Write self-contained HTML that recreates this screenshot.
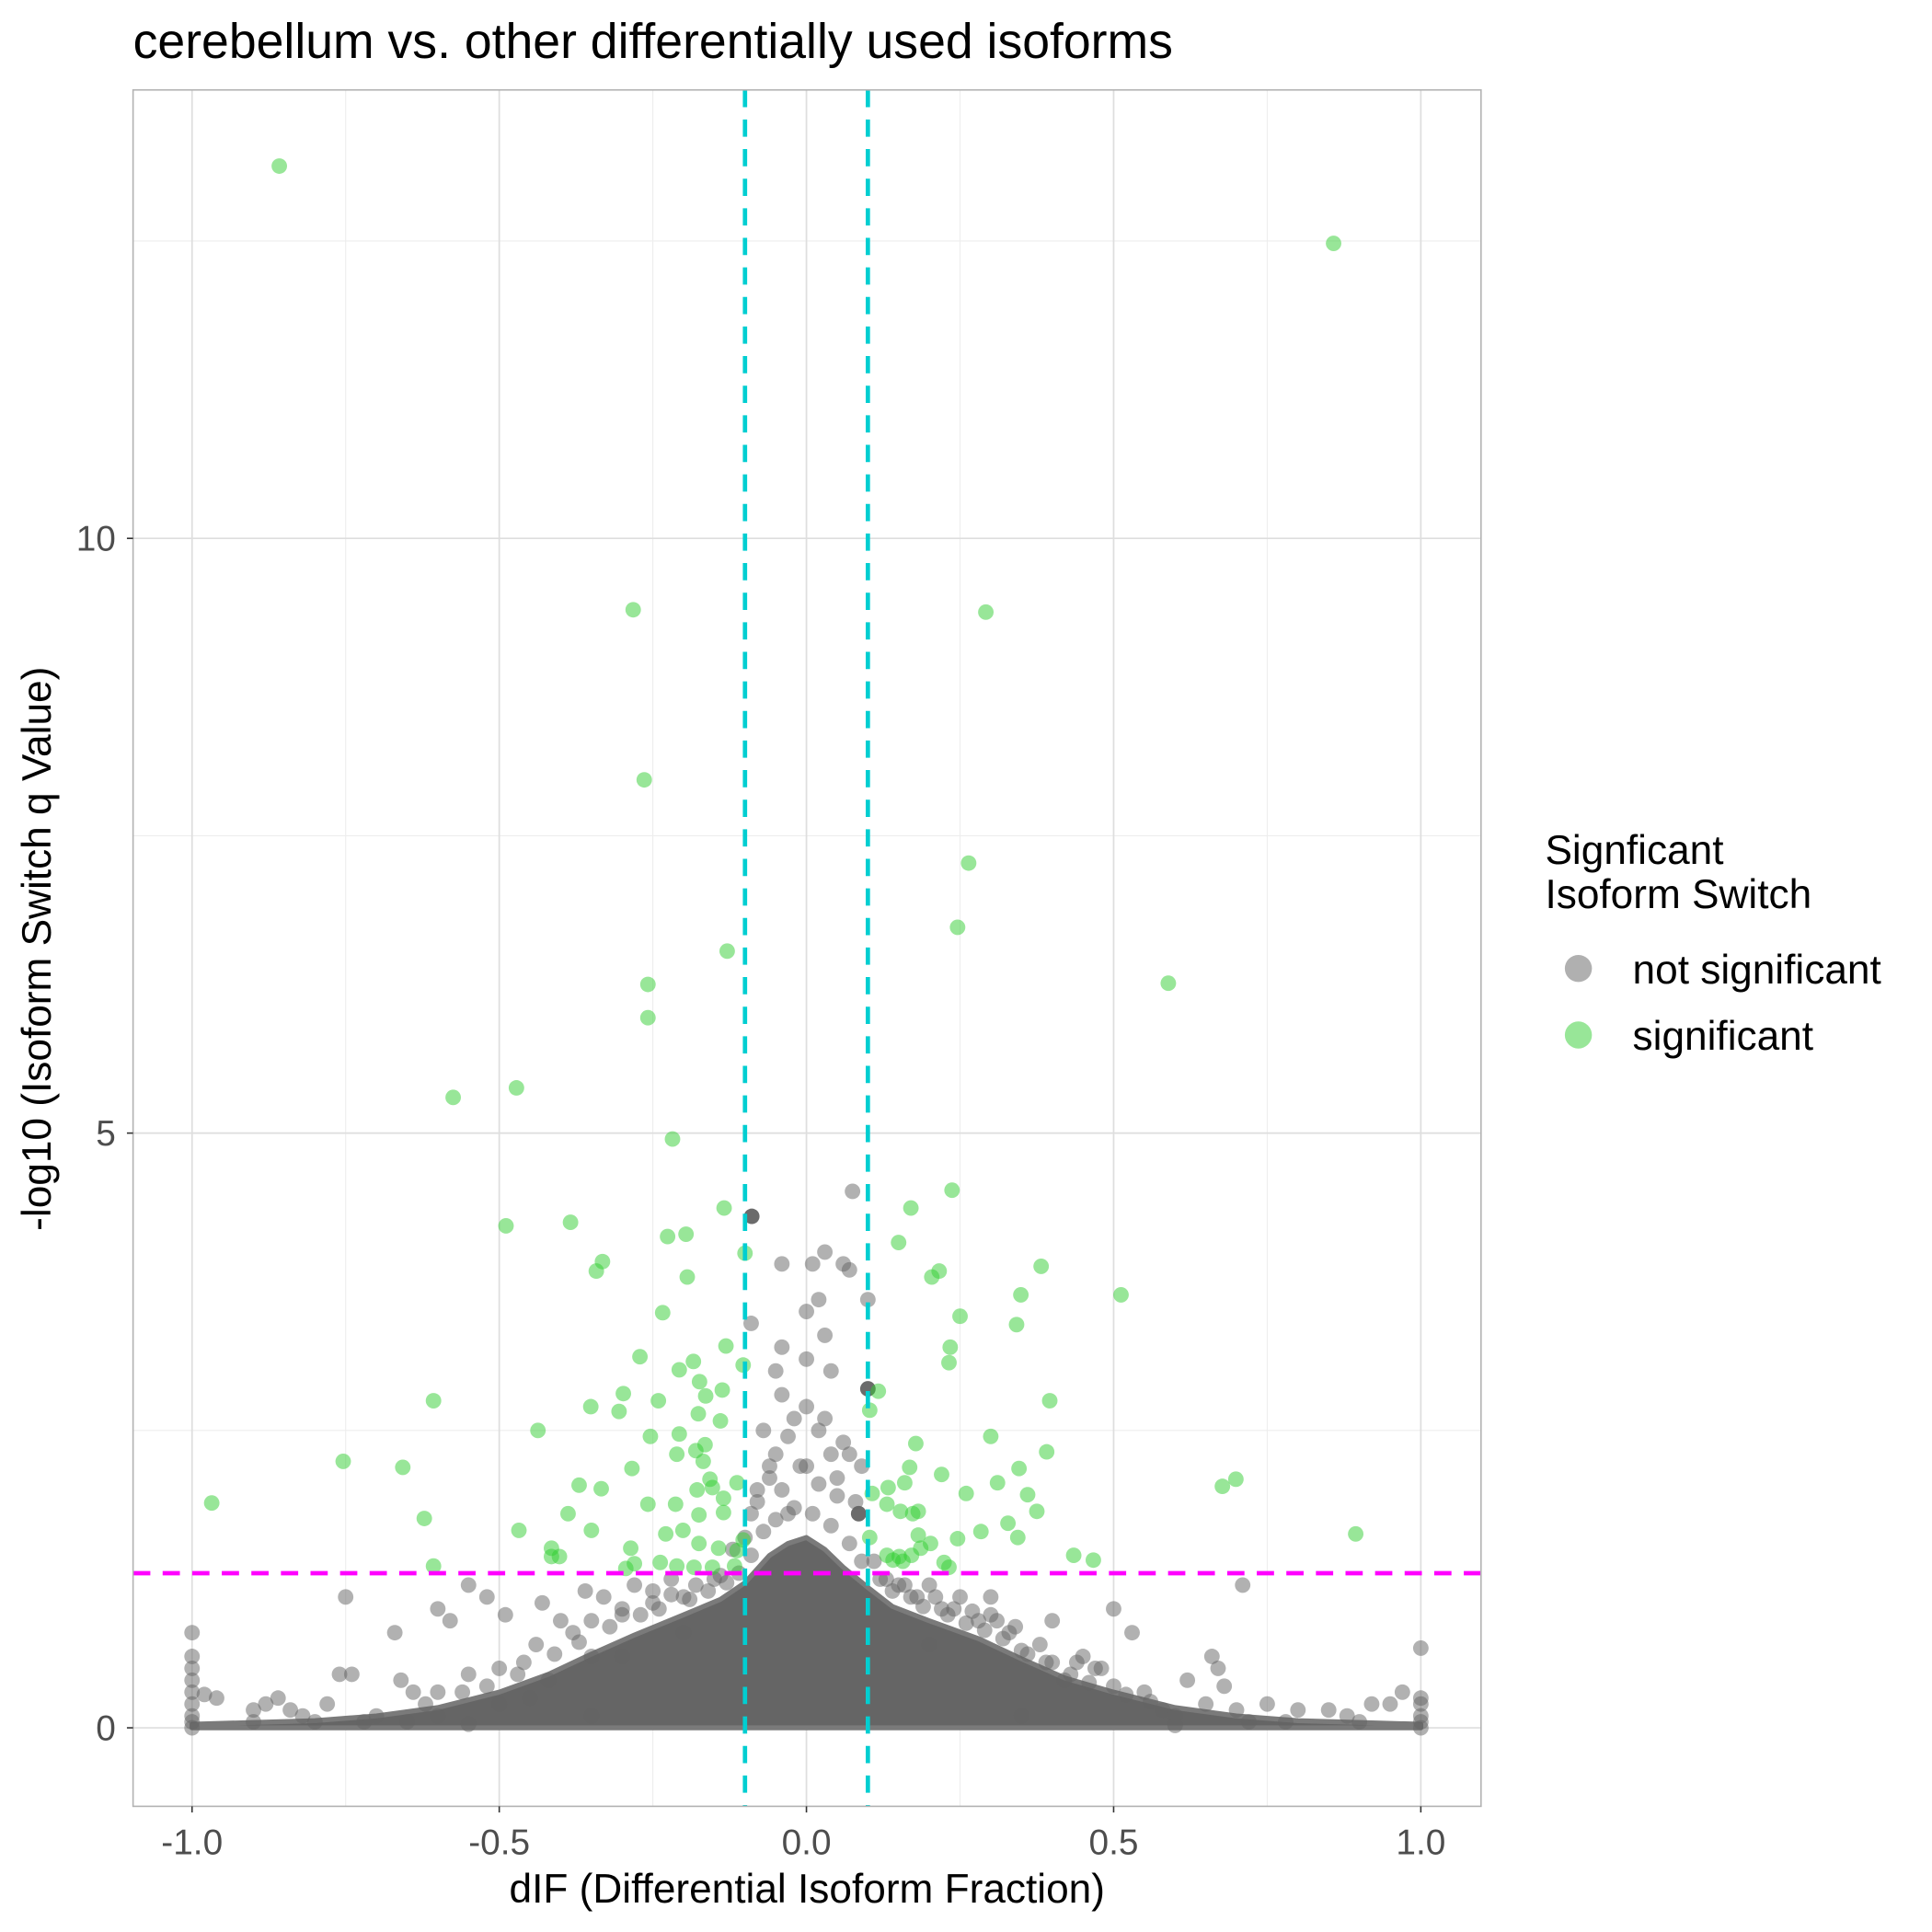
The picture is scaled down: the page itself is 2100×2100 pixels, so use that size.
<!DOCTYPE html>
<html><head><meta charset="utf-8"><style>
html,body{margin:0;padding:0;background:#fff;}
svg{display:block;font-family:"Liberation Sans",sans-serif;}
</style></head><body>
<svg id="chart" width="2100" height="2100" viewBox="0 0 1568 1568" xmlns="http://www.w3.org/2000/svg">
<text x="108" y="47" font-size="40" fill="#000">cerebellum vs. other differentially used isoforms</text>
<g id="grid"></g>
<g id="envelope"></g>
<g id="gray"></g>
<g id="green"></g>
<g id="refs"></g>
<rect x="108" y="73" width="1094" height="1393" fill="none" stroke="#b3b3b3" stroke-width="1.2"/>
<g id="axes"></g>
<text x="655" y="1544" font-size="33" text-anchor="middle" fill="#000">dIF (Differential Isoform Fraction)</text>
<text transform="translate(41,770) rotate(-90)" font-size="33" text-anchor="middle" fill="#000">-log10 (Isoform Switch q Value)</text>
<g>
<text x="1254" y="701" font-size="33" fill="#000">Signficant</text>
<text x="1254" y="737" font-size="33" fill="#000">Isoform Switch</text>
<circle cx="1281" cy="786" r="11" fill="#b0b0b0"/>
<text x="1325" y="798" font-size="33" fill="#000">not significant</text>
<circle cx="1281" cy="840" r="11" fill="#98e698"/>
<text x="1325" y="852" font-size="33" fill="#000">significant</text>
</g>
</svg>
<script>
const xTicks=[-1,-0.5,0,0.5,1];
const xTickLabels=["-1.0","-0.5","0.0","0.5","1.0"];
const xMinor=[-0.75,-0.25,0.25,0.75];
const yTicks=[0,5,10];
const yTickLabels=["0","5","10"];
const yMinor=[2.5,7.5,12.5];
const dIFThresholds=[-0.1,0.1];
const qThreshold=1.3;
const greenX=[-0.858,0.858,-0.282,0.292,-0.264,0.264,0.246,-0.129,0.589,-0.258,-0.258,-0.575,-0.472,-0.218,-0.134,0.237,0.170,-0.489,-0.384,-0.226,-0.196,0.150,-0.100,-0.332,-0.342,0.216,0.204,0.382,-0.194,0.512,0.349,-0.234,0.250,0.342,-0.131,0.234,-0.271,0.232,-0.103,-0.207,-0.184,-0.174,0.117,-0.298,-0.137,-0.164,-0.607,-0.241,0.396,-0.351,-0.305,0.103,-0.176,-0.140,-0.437,-0.207,-0.254,0.300,0.178,-0.165,-0.180,0.391,-0.211,-0.754,-0.168,-0.657,0.168,0.346,-0.284,0.220,-0.157,0.699,0.677,0.160,0.311,-0.370,-0.334,0.133,-0.113,-0.178,-0.153,0.260,0.107,0.360,-0.968,-0.258,-0.213,-0.135,0.131,0.153,0.173,0.182,0.375,-0.388,-0.135,-0.175,-0.622,0.328,-0.201,-0.468,-0.350,0.894,0.284,0.103,0.182,0.246,-0.229,-0.175,-0.103,0.344,0.186,0.202,0.435,0.467,-0.415,-0.415,-0.402,-0.286,-0.143,-0.113,0.131,0.151,0.171,0.224,-0.607,-0.280,-0.238,-0.211,-0.183,-0.153,-0.117,0.141,0.157,0.232,-0.294];
const greenQ=[13.13,12.48,9.40,9.38,7.97,7.27,6.73,6.53,6.26,6.25,5.97,5.30,5.38,4.95,4.37,4.52,4.37,4.22,4.25,4.13,4.15,4.08,3.99,3.92,3.84,3.84,3.79,3.88,3.79,3.64,3.64,3.49,3.46,3.39,3.21,3.20,3.12,3.07,3.05,3.01,3.08,2.91,2.83,2.81,2.84,2.79,2.75,2.75,2.75,2.70,2.66,2.67,2.64,2.58,2.50,2.47,2.45,2.45,2.39,2.38,2.33,2.32,2.30,2.24,2.24,2.19,2.19,2.18,2.18,2.13,2.09,2.09,2.03,2.06,2.06,2.04,2.01,2.02,2.06,2.00,2.02,1.97,1.97,1.96,1.89,1.88,1.88,1.93,1.88,1.82,1.80,1.82,1.82,1.80,1.81,1.79,1.76,1.72,1.66,1.66,1.66,1.63,1.65,1.60,1.62,1.59,1.63,1.55,1.58,1.60,1.51,1.55,1.45,1.41,1.51,1.44,1.44,1.51,1.51,1.49,1.45,1.44,1.45,1.39,1.36,1.38,1.39,1.36,1.35,1.35,1.36,1.41,1.40,1.35,1.34];
const grayX=[-1,-1,-1,-1,-1,-1,-1,-1,-1,1,1,1,1,1,1,-0.98,-0.96,-0.9,-0.88,-0.86,-0.84,-0.82,-0.8,-0.78,-0.76,-0.75,-0.74,-0.72,-0.7,-0.67,-0.66,-0.64,-0.62,-0.6,-0.6,-0.58,-0.56,-0.55,-0.52,-0.5,-0.5,-0.49,-0.47,-0.44,-0.43,-0.42,-0.4,-0.38,-0.36,-0.35,-0.33,-0.3,-0.28,-0.25,-0.22,-0.2,-0.15,-0.12,-0.1,-0.08,-0.06,-0.05,-0.03,-0.07,-0.02,0.0,0.02,0.04,0.05,0.08,0.09,0.06,-0.04,-0.05,0.0,0.04,0.03,-0.04,-0.09,0.0,0.02,-0.04,0.01,0.06,0.03,0.07,0.1,0.075,-0.09,0.11,0.15,0.18,0.2,0.22,0.25,0.28,0.3,0.33,0.35,0.38,0.4,0.42,0.45,0.48,0.5,0.53,0.5,0.55,0.58,0.6,0.62,0.65,0.66,0.67,0.68,0.7,0.71,0.72,0.75,0.78,0.8,0.85,0.88,0.9,0.92,0.95,0.97,0.4,0.3,0.2,-0.2,-0.3,-0.45,-0.65,-0.9,0.6,-0.55,0.35,-0.35,
-0.46,-0.41,-0.37,-0.32,-0.27,-0.24,-0.19,-0.16,-0.13,-0.11,-0.09,-0.07,-0.05,-0.02,0.01,0.04,0.07,0.09,0.12,0.14,0.17,0.19,0.23,0.26,0.29,0.32,0.36,0.39,0.43,0.46,-0.6,-0.55,-0.52,-0.35,-0.3,-0.25,-0.22,-0.18,-0.14,0.13,0.16,0.21,0.24,0.27,0.31,0.34,0.44,0.47,0.52,0.56,-0.08,-0.06,-0.04,-0.01,0.02,0.05,0.07,-0.03,0.03,0.0];
const grayQ=[0.8,0.6,0.5,0.4,0.3,0.2,0.1,0.05,0,0.67,0.25,0.2,0.1,0.05,0,0.28,0.25,0.15,0.2,0.25,0.15,0.1,0.05,0.2,0.45,1.1,0.45,0.05,0.1,0.8,0.4,0.3,0.2,0.1,1.0,0.9,0.3,1.2,1.1,0.5,0.2,0.95,0.45,0.7,1.05,0.4,0.9,0.8,1.15,0.6,1.1,1.0,1.2,1.15,1.25,1.1,1.25,1.5,1.6,1.9,2.1,2.3,1.8,2.5,2.6,2.7,2.5,2.3,2.1,1.9,2.2,2.4,2.8,3.0,3.1,3.0,3.3,3.2,3.4,3.5,3.6,3.9,3.9,3.9,4.0,3.85,3.6,4.51,1.8,1.4,1.2,1.1,1.2,1.0,1.1,0.9,0.95,0.8,0.65,0.7,0.55,0.4,0.6,0.5,1.0,0.8,0.35,0.3,0.15,0.1,0.4,0.2,0.6,0.5,0.35,0.15,1.2,0.05,0.2,0.05,0.15,0.15,0.1,0.05,0.2,0.2,0.3,0.9,1.1,0.7,0.8,0.6,0.25,0.05,0.05,0.02,0.03,0.1,0.1,
0.55,0.62,0.72,0.85,0.95,1.0,1.08,1.15,1.22,1.3,1.45,1.65,1.75,1.85,1.8,1.7,1.55,1.4,1.25,1.15,1.1,1.02,0.95,0.88,0.82,0.75,0.62,0.55,0.45,0.38,0.3,0.45,0.35,0.9,0.95,1.05,1.12,1.2,1.28,1.25,1.2,1.1,1.0,0.98,0.9,0.85,0.55,0.5,0.28,0.22,2.0,2.2,2.0,2.2,2.05,1.95,2.3,2.45,2.6,2.2];
const darkX=[-0.089,0.1,0.085];
const darkQ=[4.3,2.85,1.8];
const envX=[-1,-0.8,-0.7,-0.6,-0.5,-0.42,-0.35,-0.28,-0.2,-0.14,-0.1,-0.06,-0.03,0,0.03,0.06,0.1,0.14,0.2,0.28,0.35,0.42,0.5,0.6,0.7,0.8,1,1,-1];
const envQ=[0.03,0.06,0.1,0.17,0.3,0.45,0.62,0.78,0.95,1.08,1.22,1.45,1.55,1.6,1.5,1.35,1.18,1.02,0.9,0.75,0.58,0.42,0.3,0.17,0.1,0.06,0.03,0,0];

const X0=-1.096,X1=1.098,Y0=-0.66,Y1=13.77,L=108,R=1202,T=73,B=1466;
const sx=v=>L+(v-X0)/(X1-X0)*(R-L);
const sy=v=>B-(v-Y0)/(Y1-Y0)*(B-T);
const NS="http://www.w3.org/2000/svg";
function mk(tag,parent,attrs){const e=document.createElementNS(NS,tag);for(const k in attrs)e.setAttribute(k,attrs[k]);document.getElementById(parent).appendChild(e);return e;}
xMinor.forEach(v=>{const e=mk('line','grid',{x1:sx(v),x2:sx(v),y1:T,y2:B,stroke:'#ededed','stroke-width':0.8});

});
yMinor.forEach(v=>{const e=mk('line','grid',{x1:L,x2:R,y1:sy(v),y2:sy(v),stroke:'#ededed','stroke-width':0.8});

});
xTicks.forEach((v,i)=>{const e=mk('line','grid',{x1:sx(v),x2:sx(v),y1:T,y2:B,stroke:'#dedede','stroke-width':1.3});


const tk=mk('line','axes',{x1:sx(v),x2:sx(v),y1:B,y2:B+5,stroke:'#333','stroke-width':1.2});


const t=mk('text','axes',{x:sx(v),y:B+39,'font-size':29,'text-anchor':'middle',fill:'#4d4d4d'});t.textContent=xTickLabels[i];

});
yTicks.forEach((v,i)=>{const e=mk('line','grid',{x1:L,x2:R,y1:sy(v),y2:sy(v),stroke:'#dedede','stroke-width':1.3});


const tk=mk('line','axes',{x1:L-5,x2:L,y1:sy(v),y2:sy(v),stroke:'#333','stroke-width':1.2});


const t=mk('text','axes',{x:L-14,y:sy(v)+10,'font-size':29,'text-anchor':'end',fill:'#4d4d4d'});t.textContent=yTickLabels[i];

});
const env=mk('polygon','envelope',{points:envX.map((v,i)=>sx(v)+','+sy(envQ[i])).join(' '),fill:'#656565',stroke:'#7a7a7a','stroke-width':4,'stroke-linejoin':'round'});


grayX.forEach((v,i)=>{const c=mk('circle','gray',{cx:sx(v),cy:sy(grayQ[i]),r:6.3,fill:'#636363','fill-opacity':0.5});

});
darkX.forEach((v,i)=>{const c=mk('circle','gray',{cx:sx(v),cy:sy(darkQ[i]),r:6.3,fill:'#636363','fill-opacity':0.95});

});
greenX.forEach((v,i)=>{const c=mk('circle','green',{cx:sx(v),cy:sy(greenQ[i]),r:6.3,fill:'#32cd32','fill-opacity':0.5});

});
dIFThresholds.forEach(v=>{const e=mk('line','refs',{x1:sx(v),x2:sx(v),y1:T,y2:B,stroke:'#00ced1','stroke-width':3.5,'stroke-dasharray':'14 10'});

});
const h=mk('line','refs',{x1:L,x2:R,y1:sy(qThreshold),y2:sy(qThreshold),stroke:'#ff00ff','stroke-width':3.5,'stroke-dasharray':'14 10'});


</script>
</body></html>
